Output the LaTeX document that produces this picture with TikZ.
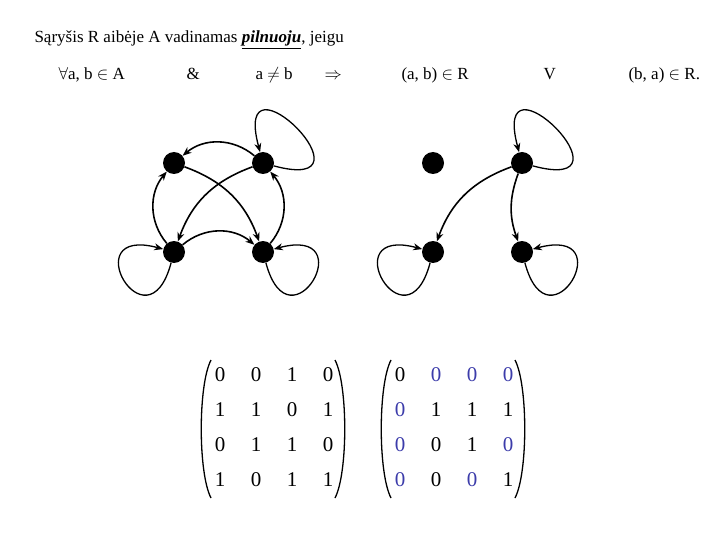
\documentclass[tikz,border=0pt]{standalone}
\usepackage{fontspec}
\setmainfont{Liberation Serif}
\usetikzlibrary{arrows.meta}
\definecolor{entryblue}{RGB}{60,60,170}
\tikzset{
    >={Stealth[length=9pt, width=7pt]},
    dot/.style={circle, fill=black, inner sep=0pt, minimum size=22pt},
    link/.style={->, line width=1.6pt},
    loopy/.style={->, line width=1.3pt, looseness=15},
    txt/.style={anchor=base west, font=\fontsize{17}{19}\selectfont},
    cell/.style={font=\fontsize{21}{23}\selectfont},
}
\begin{document}
\begin{tikzpicture}[x=1pt, y=-1pt]
    \useasboundingbox (0,0) rectangle (720,540);
    % heading
    \node[txt] (head) at (31,43) {Sąryšis R aibėje A vadinamas \underline{\textbf{\textit{pilnuoju}}}, jeigu};
    \node[txt] (t1) at (55,80) {$\forall$a, b $\in$ A};
    \node[txt] (t2) at (183,80) {\&};
    \node[txt] (t3) at (252,80) {a $\neq$ b};
    \node[txt] (t4) at (321,80) {$\Rightarrow$};
    \node[txt] (t5) at (398,80) {(a, b) $\in$ R};
    \node[txt] (t6) at (540,80) {V};
    \node[txt] (t7) at (625,80) {(b, a) $\in$ R.};
    % left graph
    \node[dot] (a1) at (174,163) {};
    \node[dot] (b1) at (263,163) {};
    \node[dot] (c1) at (174,252) {};
    \node[dot] (d1) at (263,252) {};
    \draw[link] (b1) to[bend right=40] (a1);
    \draw[link] (a1) to[bend left=25] (d1);
    \draw[link] (b1) to[bend right=25] (c1);
    \draw[link] (c1) to[bend left=40] (a1);
    \draw[link] (d1) to[bend right=40] (b1);
    \draw[link] (c1) to[bend left=40] (d1);
    \draw[loopy] (b1) to[out=-15, in=105] (b1);
    \draw[loopy] (c1) to[out=-105, in=165] (c1);
    \draw[loopy] (d1) to[out=-75, in=15] (d1);
    % right graph
    \node[dot] (a2) at (433,163) {};
    \node[dot] (b2) at (522,163) {};
    \node[dot] (c2) at (433,252) {};
    \node[dot] (d2) at (522,252) {};
    \draw[link] (b2) to[bend right=25] (c2);
    \draw[link] (b2) to[bend right=20] (d2);
    \draw[loopy] (b2) to[out=-15, in=105] (b2);
    \draw[loopy] (c2) to[out=-105, in=165] (c2);
    \draw[loopy] (d2) to[out=-75, in=15] (d2);
    % left matrix
    \foreach \row [count=\i] in {{0,0,1,0},{1,1,0,1},{0,1,1,0},{1,0,1,1}}
        \foreach \v [count=\j] in \row
            \node[cell] (l\i\j) at ({184+36*\j}, {340+35*\i}) {\v};
    \draw[line width=1.3pt] (211,360) .. controls (198,385) and (198,473) .. (211,498);
    \draw[line width=1.3pt] (335,360) .. controls (348,385) and (348,473) .. (335,498);
    % right matrix
    \foreach \row [count=\i] in {{0,b0,b0,b0},{b0,1,1,1},{b0,0,1,b0},{b0,0,b0,1}}
        \foreach \v [count=\j] in \row {
            \ifnum\pdfstrcmp{\v}{b0}=0
                \node[cell, text=entryblue] (r\i\j) at ({364+36*\j}, {340+35*\i}) {0};
            \else
                \node[cell] (r\i\j) at ({364+36*\j}, {340+35*\i}) {\v};
            \fi
        }
    \draw[line width=1.3pt] (391,360) .. controls (378,385) and (378,473) .. (391,498);
    \draw[line width=1.3pt] (515,360) .. controls (528,385) and (528,473) .. (515,498);
\end{tikzpicture}
\end{document}
